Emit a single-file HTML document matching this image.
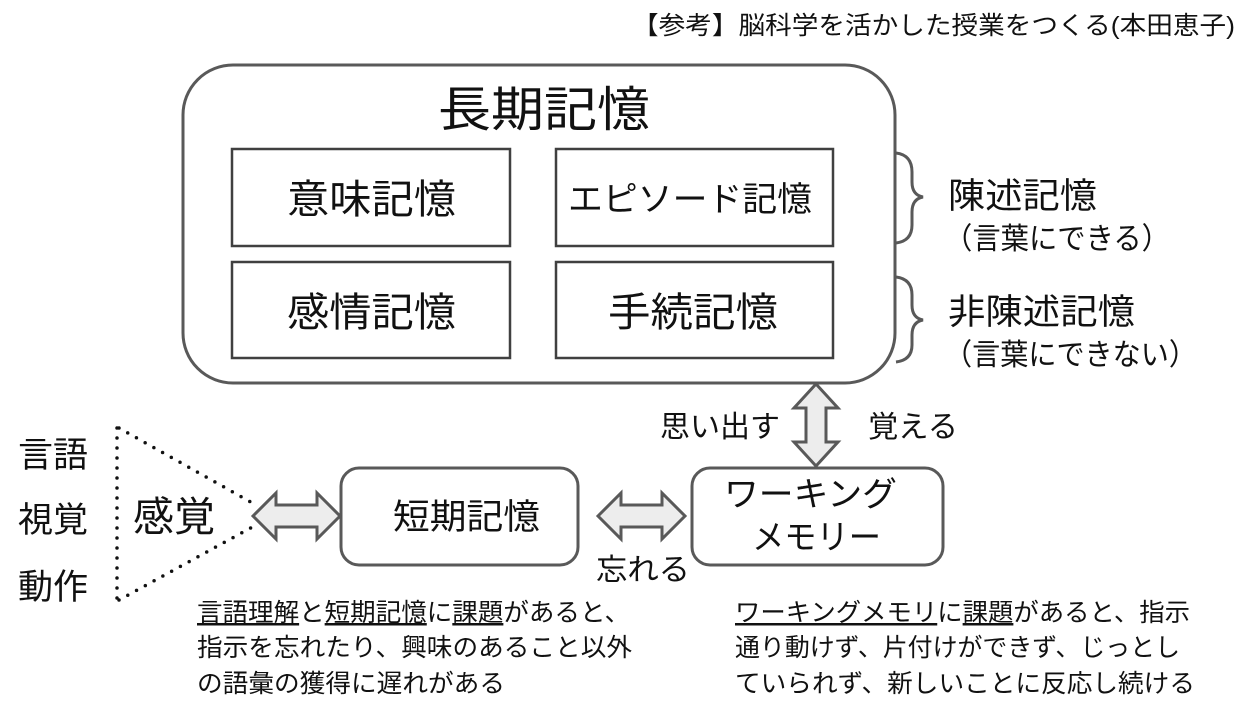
<!DOCTYPE html>
<html><head><meta charset="utf-8"><style>
html,body{margin:0;padding:0;background:#fff;}
svg{display:block;}
text{font-family:"Liberation Sans","Noto Sans CJK JP",sans-serif;fill:#111;}
</style></head><body>
<svg width="1243" height="724" viewBox="0 0 1243 724" xmlns="http://www.w3.org/2000/svg">
<text x="632" y="34" font-size="25" textLength="603" lengthAdjust="spacingAndGlyphs">【参考】脳科学を活かした授業をつくる(本田恵子)</text>
<rect x="183" y="65" width="712" height="318" rx="50" fill="#fff" stroke="#595959" stroke-width="3"/>
<text x="438" y="126" font-size="48" textLength="212" lengthAdjust="spacingAndGlyphs">長期記憶</text>
<g fill="#fff" stroke="#404040" stroke-width="2.5">
<rect x="232" y="149" width="278" height="97"/>
<rect x="556" y="149" width="277" height="97"/>
<rect x="232" y="262" width="278" height="96"/>
<rect x="556" y="262" width="277" height="96"/>
</g>
<text x="287" y="213" font-size="40" textLength="169" lengthAdjust="spacingAndGlyphs">意味記憶</text>
<text x="568" y="211" font-size="34" textLength="244" lengthAdjust="spacingAndGlyphs">エピソード記憶</text>
<text x="287" y="326" font-size="40" textLength="169" lengthAdjust="spacingAndGlyphs">感情記憶</text>
<text x="608" y="326" font-size="40" textLength="170" lengthAdjust="spacingAndGlyphs">手続記憶</text>
<g fill="none" stroke="#595959" stroke-width="3">
<path d="M896 153 Q912 155 912 172 L912 182 Q912 195 923 197 Q912 199 912 212 L912 225 Q912 241 896 243"/>
<path d="M896 277 Q912 279 912 295 L912 305 Q912 318 923 320 Q912 322 912 335 L912 345 Q912 360 896 362"/>
</g>
<text x="948" y="208" font-size="35" textLength="149" lengthAdjust="spacingAndGlyphs">陳述記憶</text>
<text x="944" y="249" font-size="30" textLength="226" lengthAdjust="spacingAndGlyphs" style="font-family:'Noto Sans CJK JP',sans-serif">（言葉にできる）</text>
<text x="948" y="324" font-size="35" textLength="187" lengthAdjust="spacingAndGlyphs">非陳述記憶</text>
<text x="944" y="365" font-size="30" textLength="253" lengthAdjust="spacingAndGlyphs" style="font-family:'Noto Sans CJK JP',sans-serif">（言葉にできない）</text>
<!-- vertical arrow -->
<path d="M816 384 L838 408 L826 408 L826 442 L838 442 L816 466 L794 442 L806 442 L806 408 L794 408 Z" fill="#ededed" stroke="#595959" stroke-width="3"/>
<text x="660" y="437" font-size="30" textLength="120" lengthAdjust="spacingAndGlyphs">思い出す</text>
<text x="868" y="437" font-size="30" textLength="90" lengthAdjust="spacingAndGlyphs">覚える</text>
<!-- boxes -->
<rect x="341" y="468" width="237" height="97" rx="18" fill="#fff" stroke="#595959" stroke-width="3"/>
<text x="393" y="529" font-size="35" textLength="147" lengthAdjust="spacingAndGlyphs">短期記憶</text>
<rect x="692" y="468" width="251" height="97" rx="18" fill="#fff" stroke="#595959" stroke-width="3"/>
<text x="724" y="506" font-size="34" textLength="173" lengthAdjust="spacingAndGlyphs">ワーキング</text>
<text x="752" y="549" font-size="34" textLength="129" lengthAdjust="spacingAndGlyphs">メモリー</text>
<!-- horizontal arrows -->
<path d="M253 516 L276 493 L276 505 L317 505 L317 493 L340 516 L317 539 L317 527 L276 527 L276 539 Z" fill="#ededed" stroke="#595959" stroke-width="3"/>
<path d="M598 516 L621 493 L621 505 L662 505 L662 493 L685 516 L662 539 L662 527 L621 527 L621 539 Z" fill="#ededed" stroke="#595959" stroke-width="3"/>
<text x="596" y="580" font-size="30" textLength="94" lengthAdjust="spacingAndGlyphs">忘れる</text>
<!-- left -->
<text x="18" y="467" font-size="35" textLength="70" lengthAdjust="spacingAndGlyphs">言語</text>
<text x="18" y="532" font-size="35" textLength="70" lengthAdjust="spacingAndGlyphs">視覚</text>
<text x="18" y="599" font-size="35" textLength="70" lengthAdjust="spacingAndGlyphs">動作</text>
<text x="133" y="531" font-size="41" textLength="82" lengthAdjust="spacingAndGlyphs">感覚</text>
<g stroke="#111" stroke-width="3.5" stroke-dasharray="0 10" stroke-linecap="round" fill="none">
<line x1="117" y1="428" x2="117" y2="602"/>
<line x1="119" y1="428" x2="256" y2="505"/>
<line x1="119" y1="600" x2="256" y2="525"/>
</g>
<!-- bottom text -->
<g font-size="25">
<text x="197" y="621" textLength="433" lengthAdjust="spacingAndGlyphs"><tspan text-decoration="underline">言語理解</tspan>と<tspan text-decoration="underline">短期記憶</tspan>に<tspan text-decoration="underline">課題</tspan>があると、</text>
<text x="197" y="656" textLength="435" lengthAdjust="spacingAndGlyphs">指示を忘れたり、興味のあること以外</text>
<text x="197" y="692" textLength="308" lengthAdjust="spacingAndGlyphs">の語彙の獲得に遅れがある</text>
<text x="735" y="621" textLength="455" lengthAdjust="spacingAndGlyphs"><tspan text-decoration="underline">ワーキングメモリ</tspan>に<tspan text-decoration="underline">課題</tspan>があると、指示</text>
<text x="735" y="656" textLength="445" lengthAdjust="spacingAndGlyphs">通り動けず、片付けができず、じっとし</text>
<text x="735" y="692" textLength="460" lengthAdjust="spacingAndGlyphs">ていられず、新しいことに反応し続ける</text>
</g>
</svg>
</body></html>
